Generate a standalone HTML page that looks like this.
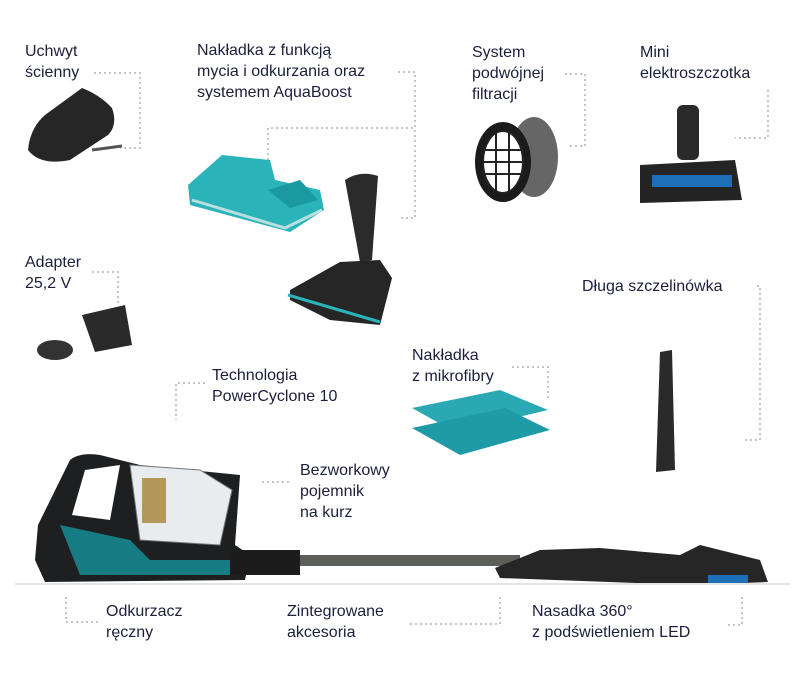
<!DOCTYPE html>
<html><head><meta charset="utf-8"><style>
body{margin:0;width:800px;height:680px;background:#fff;position:relative;overflow:hidden;font-family:"Liberation Sans",sans-serif;}
.t{position:absolute;color:#1b1f3b;font-size:16px;line-height:21px;white-space:nowrap;}
svg{position:absolute;left:0;top:0;}
</style></head><body>
<svg width="800" height="680">
<g stroke="#c4c4c4" stroke-width="2" stroke-dasharray="2 3" fill="none">
<polyline points="94,73 140,73 140,148 120,148"/>
<polyline points="398,72 415,72 415,218 398,218"/>
<polyline points="268,170 268,128 415,128"/>
<polyline points="565,74 585,74 585,146 568,146"/>
<polyline points="768,90 768,138 735,138"/>
<polyline points="92,272 118,272 118,305"/>
<polyline points="205,383 176,383 176,420"/>
<polyline points="757,286 760,286 760,440 745,440"/>
<polyline points="512,367 548,367 548,398"/>
<polyline points="262,482 290,482"/>
<polyline points="66,597 66,622 100,622"/>
<polyline points="410,624 500,624 500,597"/>
<polyline points="742,597 742,625 728,625"/>
</g>
<!-- wall holder -->
<path d="M28,150 Q30,128 45,115 L82,88 Q100,95 112,108 Q118,125 108,135 L70,160 Q40,166 28,150 Z" fill="#262626"/>
<path d="M92,150 L122,146" stroke="#555" stroke-width="3"/>
<!-- aqua pad -->
<path d="M188,185 L222,155 L270,160 L275,180 L320,190 L324,210 L290,232 L190,205 Z" fill="#2ab3b8"/>
<path d="M192,200 L285,228 L322,210" stroke="#b9dfe0" stroke-width="3" fill="none"/>
<path d="M268,190 L300,180 L318,200 L290,208 Z" fill="#1a9aa0"/>
<!-- floor nozzle -->
<path d="M345,180 Q360,170 378,176 L372,260 L360,262 Z" fill="#2b2b2b"/>
<path d="M290,290 L340,262 L380,260 L392,278 L380,325 L330,320 L290,300 Z" fill="#262626"/>
<path d="M288,295 L380,322" stroke="#2ab3b8" stroke-width="3"/>
<!-- filter -->
<ellipse cx="534" cy="157" rx="24" ry="40" fill="#666"/>
<ellipse cx="503" cy="162" rx="28" ry="40" fill="#1b1b1b"/>
<ellipse cx="503" cy="162" rx="20" ry="31" fill="#fff" stroke="#222" stroke-width="2"/>
<g stroke="#222" stroke-width="2"><line x1="483" y1="150" x2="523" y2="150"/><line x1="483" y1="162" x2="523" y2="162"/><line x1="483" y1="174" x2="523" y2="174"/><line x1="496" y1="132" x2="496" y2="192"/><line x1="509" y1="132" x2="509" y2="192"/></g>
<!-- mini brush -->
<rect x="677" y="105" width="22" height="55" rx="6" fill="#2a2a2a"/>
<path d="M640,165 L735,160 L742,200 L640,203 Z" fill="#242424"/>
<rect x="652" y="175" width="80" height="12" fill="#1d6fb8"/>
<!-- adapter -->
<path d="M82,315 L125,305 L132,345 L95,352 Z" fill="#2a2a2a"/>
<ellipse cx="55" cy="350" rx="18" ry="10" fill="#333"/>
<!-- microfibre pads -->
<path d="M412,408 L500,390 L548,410 L455,432 Z" fill="#2aa9b5"/>
<path d="M412,428 L505,408 L550,430 L460,455 Z" fill="#1f9aa7"/>
<!-- crevice tool -->
<path d="M660,352 L672,350 L675,470 L656,472 Z" fill="#2a2a2a"/>
<!-- vacuum -->
<path d="M38,525 L70,460 Q80,452 100,455 L140,465 L240,475 L235,545 L250,555 L245,580 L45,582 L35,560 Z" fill="#1d1f21"/>
<path d="M85,470 L120,465 L110,520 L72,515 Z" fill="#fff"/>
<path d="M130,465 L200,470 L232,490 L220,545 L140,540 Z" fill="#e8ecee" stroke="#777"/>
<rect x="142" y="478" width="24" height="45" fill="#b4975a"/>
<path d="M60,525 L130,540 L150,560 L230,560 L230,575 L80,575 Z" fill="#177b83"/>
<rect x="230" y="555" width="290" height="11" fill="#5c5f57"/>
<rect x="230" y="550" width="70" height="25" fill="#1c1c1c"/>
<path d="M495,568 L540,550 L600,548 L680,555 L700,545 L760,560 L768,582 L690,585 L500,578 Z" fill="#262626"/>
<rect x="708" y="575" width="40" height="8" fill="#1d6fb8"/>
<line x1="15" y1="584" x2="790" y2="584" stroke="#e4e4e4" stroke-width="2"/>
</svg>
<div class="t" style="left:25px;top:41px">Uchwyt<br>ścienny</div>
<div class="t" style="left:197px;top:40px">Nakładka z funkcją<br>mycia i odkurzania oraz<br>systemem AquaBoost</div>
<div class="t" style="left:472px;top:42px">System<br>podwójnej<br>filtracji</div>
<div class="t" style="left:640px;top:42px">Mini<br>elektroszczotka</div>
<div class="t" style="left:25px;top:252px">Adapter<br>25,2 V</div>
<div class="t" style="left:582px;top:276px">Długa szczelinówka</div>
<div class="t" style="left:212px;top:365px">Technologia<br>PowerCyclone 10</div>
<div class="t" style="left:412px;top:345px">Nakładka<br>z mikrofibry</div>
<div class="t" style="left:300px;top:460px">Bezworkowy<br>pojemnik<br>na kurz</div>
<div class="t" style="left:106px;top:601px">Odkurzacz<br>ręczny</div>
<div class="t" style="left:287px;top:601px">Zintegrowane<br>akcesoria</div>
<div class="t" style="left:532px;top:601px">Nasadka 360°<br>z podświetleniem LED</div>
</body></html>
